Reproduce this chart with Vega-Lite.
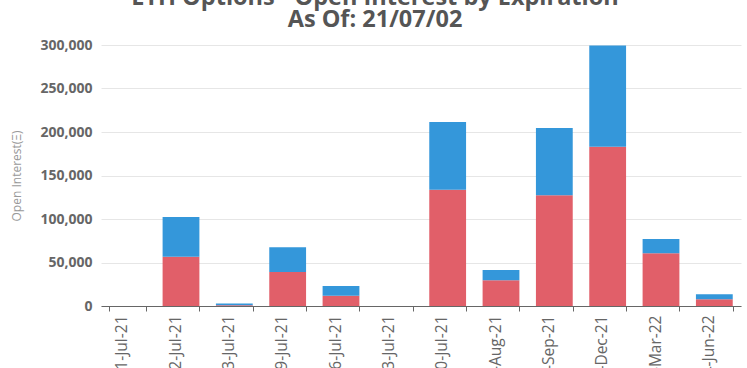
{
  "$schema": "https://vega.github.io/schema/vega-lite/v6.json",
  "width": 640,
  "height": 261,
  "autosize": {"type": "none"},
  "padding": {"left": 101, "top": 45, "right": 6, "bottom": 62},
  "background": "white",
  "title": {
    "text": ["ETH Options - Open Interest by Expiration", "As Of: 21/07/02"],
    "font": "Open Sans",
    "fontSize": 23.5,
    "fontWeight": "bold",
    "color": "#555555",
    "anchor": "middle",
    "dx": -46,
    "offset": 7,
    "lineHeight": 22
  },
  "data": {
    "values": [
      {"date": "01-Jul-21", "type": "Call", "k": 0, "oi": 0},
      {"date": "01-Jul-21", "type": "Put", "k": 1, "oi": 0},
      {"date": "02-Jul-21", "type": "Call", "k": 0, "oi": 56700},
      {"date": "02-Jul-21", "type": "Put", "k": 1, "oi": 45600},
      {"date": "03-Jul-21", "type": "Call", "k": 0, "oi": 800},
      {"date": "03-Jul-21", "type": "Put", "k": 1, "oi": 2200},
      {"date": "09-Jul-21", "type": "Call", "k": 0, "oi": 39000},
      {"date": "09-Jul-21", "type": "Put", "k": 1, "oi": 28500},
      {"date": "16-Jul-21", "type": "Call", "k": 0, "oi": 11800},
      {"date": "16-Jul-21", "type": "Put", "k": 1, "oi": 11200},
      {"date": "23-Jul-21", "type": "Call", "k": 0, "oi": 0},
      {"date": "23-Jul-21", "type": "Put", "k": 1, "oi": 0},
      {"date": "30-Jul-21", "type": "Call", "k": 0, "oi": 133700},
      {"date": "30-Jul-21", "type": "Put", "k": 1, "oi": 77800},
      {"date": "27-Aug-21", "type": "Call", "k": 0, "oi": 29500},
      {"date": "27-Aug-21", "type": "Put", "k": 1, "oi": 11900},
      {"date": "24-Sep-21", "type": "Call", "k": 0, "oi": 127200},
      {"date": "24-Sep-21", "type": "Put", "k": 1, "oi": 77400},
      {"date": "31-Dec-21", "type": "Call", "k": 0, "oi": 183000},
      {"date": "31-Dec-21", "type": "Put", "k": 1, "oi": 116500},
      {"date": "25-Mar-22", "type": "Call", "k": 0, "oi": 60500},
      {"date": "25-Mar-22", "type": "Put", "k": 1, "oi": 16500},
      {"date": "24-Jun-22", "type": "Call", "k": 0, "oi": 7700},
      {"date": "24-Jun-22", "type": "Put", "k": 1, "oi": 5700}
    ]
  },
  "mark": {"type": "bar"},
  "encoding": {
    "x": {
      "field": "date",
      "type": "nominal",
      "sort": null,
      "scale": {"paddingInner": 0.31, "paddingOuter": 0.155},
      "axis": {
        "title": null,
        "labelAngle": 270,
        "labelAlign": "right",
        "labelBaseline": "middle",
        "labelFont": "Open Sans",
        "labelFontSize": 15.5,
        "labelColor": "#666666",
        "labelPadding": 4,
        "labelOffset": -6,
        "tickBand": "extent",
        "ticks": true,
        "tickSize": 5,
        "tickColor": "#666666",
        "domainColor": "#666666",
        "grid": false
      }
    },
    "y": {
      "field": "oi",
      "type": "quantitative",
      "stack": "zero",
      "scale": {"domain": [0, 300000], "nice": false},
      "axis": {
        "title": "Open Interest(Ξ)",
        "titleFont": "Open Sans",
        "titleFontSize": 12,
        "titleFontWeight": "normal",
        "titleColor": "#999999",
        "titleX": -85,
        "titleY": 130.5,
        "titleAngle": 270,
        "titleAlign": "center",
        "titleBaseline": "middle",
        "values": [0, 50000, 100000, 150000, 200000, 250000, 300000],
        "format": ",d",
        "labelFont": "Open Sans",
        "labelFontSize": 14,
        "labelFontWeight": "bold",
        "labelColor": "#666666",
        "labelPadding": 9,
        "domain": false,
        "ticks": false,
        "gridColor": "#e6e6e6"
      }
    },
    "color": {
      "field": "type",
      "type": "nominal",
      "scale": {"domain": ["Call", "Put"], "range": ["#e15f69", "#3497da"]},
      "legend": null
    },
    "order": {"field": "k", "type": "quantitative"}
  },
  "config": {"view": {"stroke": null}}
}
